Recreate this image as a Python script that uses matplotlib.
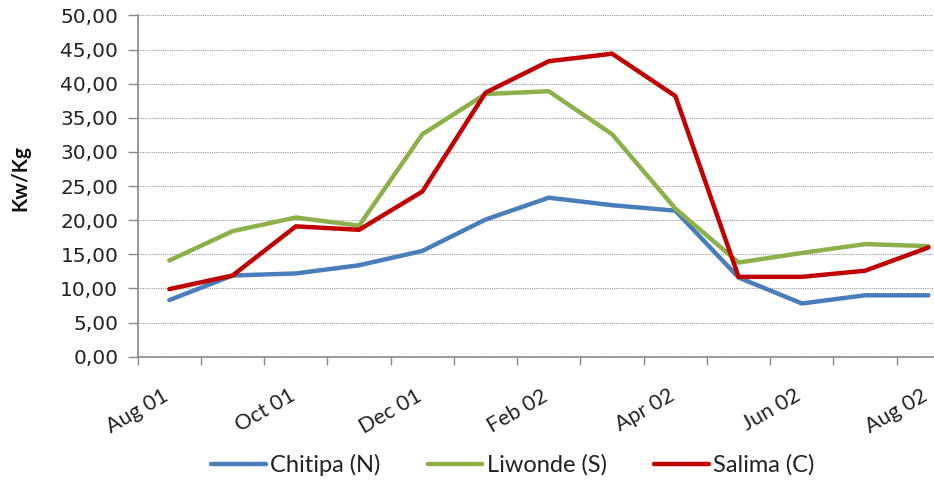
import matplotlib
matplotlib.use("Agg")
import matplotlib.pyplot as plt
from matplotlib.ticker import FuncFormatter, FixedLocator

months = ["Aug 01", "Sep 01", "Oct 01", "Nov 01", "Dec 01", "Jan 02", "Feb 02",
          "Mar 02", "Apr 02", "May 02", "Jun 02", "Jul 02", "Aug 02"]
chitipa = [8.3, 11.9, 12.2, 13.4, 15.5, 20.1, 23.3, 22.2, 21.4, 11.6, 7.8, 9.0, 9.0]
liwonde = [14.1, 18.4, 20.4, 19.2, 32.6, 38.5, 38.9, 32.6, 21.7, 13.8, 15.2, 16.5, 16.2]
salima = [9.9, 11.9, 19.1, 18.6, 24.2, 38.7, 43.3, 44.4, 38.2, 11.7, 11.7, 12.6, 16.0]
series_names = ["Chitipa (N)", "Liwonde (S)", "Salima (C)"]
colors = ["#4A7EBB", "#8CB04A", "#C00000"]

fig = plt.figure(figsize=(9.34, 4.84), dpi=100)
ax = fig.add_axes([137.7 / 934, 127.3 / 484, (960 - 137.7) / 934, 341.2 / 484])

x = list(range(len(months)))
for vals, name, c in zip([chitipa, liwonde, salima], series_names, colors):
    ax.plot(x, vals, color=c, lw=3.2, label=name, solid_capstyle="round", solid_joinstyle="round")

ax.set_xlim(-0.5, len(months) - 0.5)
ax.set_ylim(0, 50)
ax.set_yticks([i * 5 for i in range(11)])
ax.yaxis.set_major_formatter(FuncFormatter(lambda v, p: f"{v:.2f}".replace(".", ",")))
ax.grid(axis="y", color="#999999", ls=(0, (1, 1)), lw=0.8)
ax.set_axisbelow(True)

# label anchors sit slightly left of the category centre, as in the reference
ax.set_xticks([i - 0.12 for i in x[::2]])
ax.set_xticklabels(months[::2], rotation=30, ha="right", rotation_mode="anchor",
                   family="Lato", fontsize=15.5, color="#222222")
ax.xaxis.set_minor_locator(FixedLocator([i - 0.5 for i in range(len(months) + 1)]))
ax.tick_params(axis="x", which="major", length=0, pad=21)
ax.tick_params(axis="x", which="minor", length=6, color="#888888", width=1)
ax.tick_params(axis="y", length=7, color="#888888", width=1, labelsize=14.5, labelcolor="#222222", pad=7)

for s in ["top", "right"]:
    ax.spines[s].set_visible(False)
for s in ["left", "bottom"]:
    ax.spines[s].set_color("#888888")
    ax.spines[s].set_linewidth(1.2)

fig.text(20 / 934, 1 - 178 / 484, "Kw/Kg", rotation=90, ha="center", va="center",
         fontsize=15, fontweight="bold", family="Lato", color="#111111")

fig.legend(loc="center", bbox_to_anchor=(513 / 934, 1 - 465 / 484), ncol=3, frameon=False,
           prop={"family": "Lato", "size": 17}, handlelength=2.3, handletextpad=0.2,
           columnspacing=2.0, labelcolor="#222222")

fig.savefig("out.png", dpi=100)
